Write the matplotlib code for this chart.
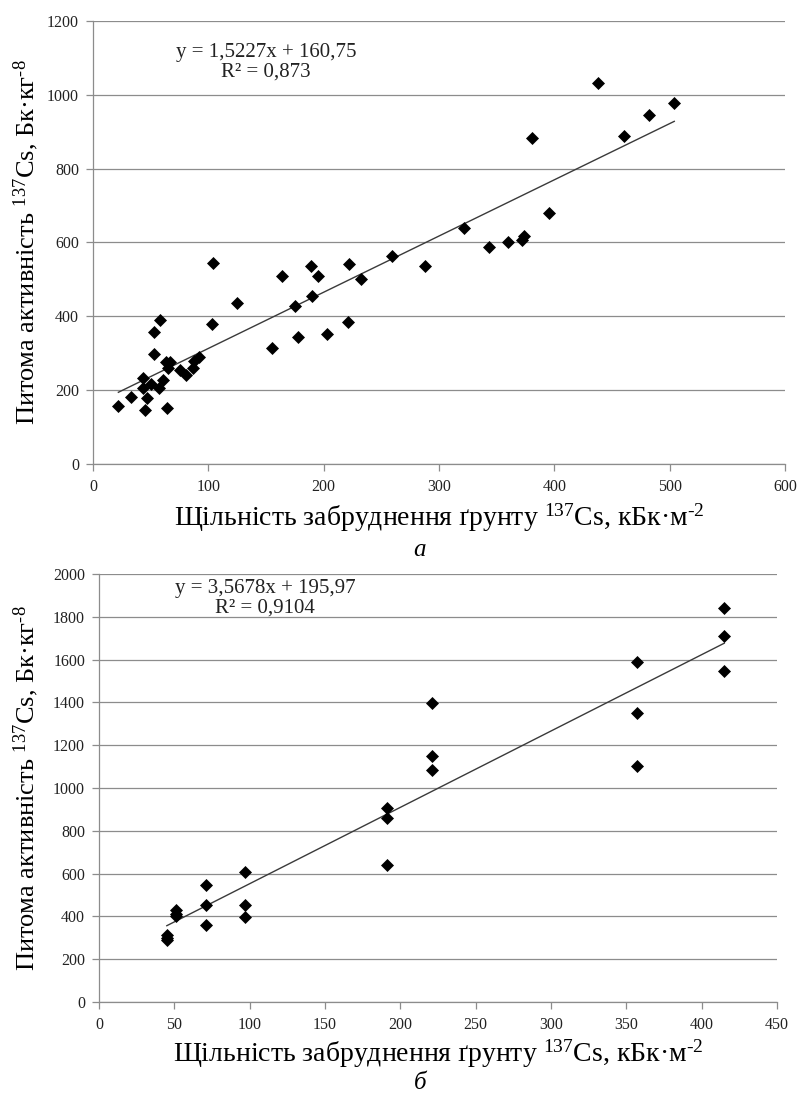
import matplotlib
matplotlib.use("Agg")
import matplotlib.pyplot as plt
import numpy as np

plt.rcParams['font.family'] = ['Liberation Serif', 'DejaVu Serif']
plt.rcParams['mathtext.fontset'] = 'custom'
plt.rcParams['mathtext.rm'] = 'Liberation Serif'
plt.rcParams['mathtext.it'] = 'Liberation Serif:italic'

# ---- data: chart (a) ----
x_a = [22, 33, 45, 43, 43, 47, 50, 53, 53, 57, 58, 61, 63, 64, 65, 67, 75, 81, 87, 88, 92,
       103, 104, 125, 155, 164, 175, 178, 189, 190, 195, 203,
       221, 222, 232, 259, 288, 322, 343, 360, 372, 374, 381, 395, 438, 460, 482, 504]
y_a = [158, 181, 147, 232, 205, 180, 217, 357, 299, 205, 389, 228, 275, 153, 260, 275, 255, 240, 260, 278, 289,
       378, 545, 436, 314, 508, 429, 343, 537, 454, 509, 353,
       386, 541, 501, 563, 537, 639, 588, 601, 606, 618, 884, 679, 1033, 888, 946, 979]
slope_a, intercept_a = 1.5227, 160.75
eq_a = ["y = 1,5227x + 160,75", "R² = 0,873"]
xticks_a = [0, 100, 200, 300, 400, 500, 600]
yticks_a = [0, 200, 400, 600, 800, 1000, 1200]

# ---- data: chart (б) ----
x_b = [45, 45, 45, 51, 51, 51, 71, 71, 71, 97, 97, 97, 191, 191, 191,
       221, 221, 221, 357, 357, 357, 415, 415, 415]
y_b = [315, 300, 290, 430, 410, 400, 548, 455, 362, 606, 455, 399, 907, 858, 640,
       1397, 1151, 1082, 1590, 1350, 1104, 1840, 1712, 1548]
slope_b, intercept_b = 3.5678, 195.97
eq_b = ["y = 3,5678x + 195,97", "R² = 0,9104"]
xticks_b = [0, 50, 100, 150, 200, 250, 300, 350, 400, 450]
yticks_b = [0, 200, 400, 600, 800, 1000, 1200, 1400, 1600, 1800, 2000]

ylabel = 'Питома активність $^{137}$Cs, Бк·кг$^{\u2010 8}$'
xlabel = 'Щільність забруднення ґрунту $^{137}$Cs, кБк·м$^{\u2010 2}$'

W, H = 800, 1095
fig = plt.figure(figsize=(W / 100, H / 100), dpi=100)

grid_c = '#8c8c8c'

def fx(px):
    return px / W

def fy(py):
    return 1 - py / H

def panel(box, xs, ys, slope, icpt, eq, xt, yt, eq_pos, letter, letter_py, xlabel_py):
    l, r, t, b = box
    ax = fig.add_axes([fx(l), fy(b), (r - l) / W, (b - t) / H])
    ax.set_xlim(xt[0], xt[-1])
    ax.set_ylim(yt[0], yt[-1])
    ax.set_xticks(xt)
    ax.set_yticks(yt)
    ax.yaxis.grid(True, color=grid_c, linewidth=0.9)
    ax.set_axisbelow(True)
    for s in ['top', 'right']:
        ax.spines[s].set_visible(False)
    for s in ['left', 'bottom']:
        ax.spines[s].set_color(grid_c)
        ax.spines[s].set_linewidth(0.9)
    ax.tick_params(axis='both', colors=grid_c, length=5, width=0.9, labelsize=11.5,
                   labelcolor='#222222', direction='out')
    ax.tick_params(axis='x', pad=6)
    ax.tick_params(axis='y', pad=5)
    ax.scatter(xs, ys, marker='D', s=44, color='black', zorder=3, linewidths=0)
    xl = np.array([min(xs), max(xs)], dtype=float)
    ax.plot(xl, slope * xl + icpt, color='#3a3a3a', linewidth=1.0, zorder=2)
    fig.text(fx(eq_pos[0]), fy(eq_pos[1]), eq[0], ha='center', va='center',
             fontsize=15, color='#222222')
    fig.text(fx(eq_pos[0]), fy(eq_pos[1] + 20), eq[1], ha='center', va='center',
             fontsize=15, color='#222222')
    fig.text(fx(26), fy((t + b) / 2), ylabel, rotation=90, ha='center', va='center',
             fontsize=19)
    fig.text(fx((l + r) / 2), fy(xlabel_py), xlabel, ha='center', va='center', fontsize=20)
    fig.text(fx(420), fy(letter_py), letter, ha='center', va='center', fontsize=18,
             style='italic')
    return ax

# top panel (pixels): left 93, right 785, top 21, bottom 464
panel((93, 785, 21, 464), x_a, y_a, slope_a, intercept_a, eq_a,
      xticks_a, yticks_a, (266, 52), 'а', 550, 518)
# bottom panel (pixels): left 99, right 777, top 574, bottom 1002
panel((99, 777, 574, 1002), x_b, y_b, slope_b, intercept_b, eq_b,
      xticks_b, yticks_b, (265, 588), 'б', 1083, 1054)

fig.savefig('out.png', dpi=100)
